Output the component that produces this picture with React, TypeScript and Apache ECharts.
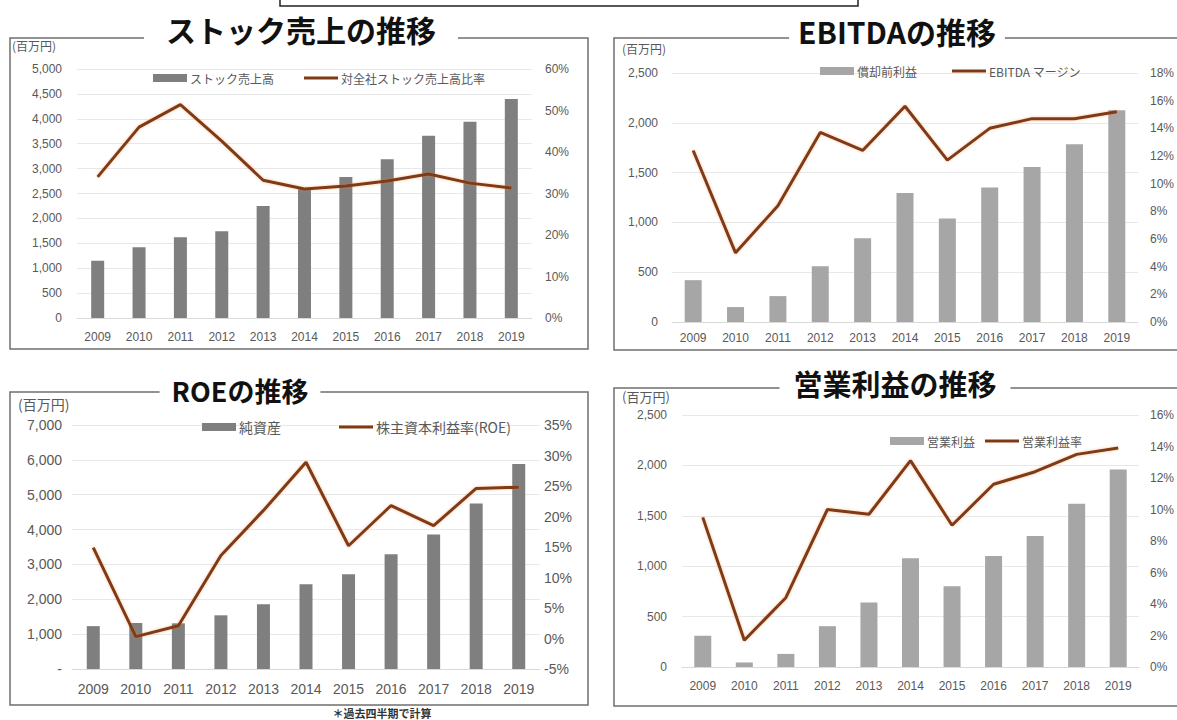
import React, { useEffect, useRef } from "react";
import * as echarts from "echarts";

const years = ["2009", "2010", "2011", "2012", "2013", "2014", "2015", "2016", "2017", "2018", "2019"];

// Panel 1: stock sales
const stockSales = [1150, 1420, 1620, 1740, 2250, 2610, 2830, 3190, 3660, 3940, 4400];
const stockRatio = [34.0, 46.0, 51.4, 42.6, 33.2, 31.1, 31.8, 33.0, 34.7, 32.5, 31.3];
// Panel 2: EBITDA
const ebitda = [420, 150, 260, 560, 840, 1295, 1040, 1350, 1555, 1785, 2125];
const ebitdaMargin = [12.4, 5.0, 8.4, 13.7, 12.4, 15.6, 11.7, 14.0, 14.7, 14.7, 15.2];
// Panel 3: ROE
const netAssets = [1230, 1320, 1310, 1540, 1860, 2430, 2720, 3290, 3860, 4750, 5880];
const roe = [14.9, 0.3, 2.1, 13.6, 21.0, 28.9, 15.2, 21.8, 18.5, 24.6, 24.8];
// Panel 4: operating profit
const opProfit = [310, 45, 130, 405, 640, 1080, 800, 1100, 1300, 1620, 1960];
const opMargin = [9.5, 1.7, 4.4, 10.0, 9.7, 13.1, 9.0, 11.6, 12.4, 13.5, 13.9];

const FONT = '"Liberation Sans", "Noto Sans CJK JP", sans-serif';
const JFONT = '"Noto Sans CJK JP", sans-serif';
const LABEL = "#595959";
const LINE = "#7f3a14";
const LINE_ICON = "path://M0,0 L34,0 L34,3 L0,3 Z";

type P = {
  grid: { left: number; top: number; width: number; height: number };
  bars: number[];
  line: number[];
  barName: string;
  lineName: string;
  barColor: string;
  barWidth: number;
  lMin: number; lMax: number; lInt: number;
  rMin: number; rMax: number; rInt: number;
  fs: number;
  lMargin: number; rMargin: number; xMargin: number;
  legend: { left: number; top: number; gap: number; fs: number };
  dashZero?: boolean;
};

const panels: P[] = [
  {
    grid: { left: 77, top: 69, width: 455, height: 249 },
    bars: stockSales, line: stockRatio,
    barName: "ストック売上高", lineName: "対全社ストック売上高比率",
    barColor: "#7f7f7f", barWidth: 13,
    lMin: 0, lMax: 5000, lInt: 500, rMin: 0, rMax: 60, rInt: 10,
    fs: 12, lMargin: 15, rMargin: 13, xMargin: 13,
    legend: { left: 148, top: 67, gap: 30, fs: 12 },
  },
  {
    grid: { left: 672, top: 73, width: 468, height: 249 },
    bars: ebitda, line: ebitdaMargin,
    barName: "償却前利益", lineName: "EBITDA マージン",
    barColor: "#a6a6a6", barWidth: 17,
    lMin: 0, lMax: 2500, lInt: 500, rMin: 0, rMax: 18, rInt: 2,
    fs: 12, lMargin: 14, rMargin: 12, xMargin: 10,
    legend: { left: 815, top: 60, gap: 35, fs: 12 },
  },
  {
    grid: { left: 72, top: 425, width: 468, height: 244 },
    bars: netAssets, line: roe,
    barName: "純資産", lineName: "株主資本利益率(ROE)",
    barColor: "#7f7f7f", barWidth: 13,
    lMin: 0, lMax: 7000, lInt: 1000, rMin: -5, rMax: 35, rInt: 5,
    fs: 14, lMargin: 10, rMargin: 4, xMargin: 13,
    legend: { left: 197, top: 415, gap: 58, fs: 14 },
    dashZero: true,
  },
  {
    grid: { left: 682, top: 415, width: 457, height: 252 },
    bars: opProfit, line: opMargin,
    barName: "営業利益", lineName: "営業利益率",
    barColor: "#a6a6a6", barWidth: 17,
    lMin: 0, lMax: 2500, lInt: 500, rMin: 0, rMax: 16, rInt: 2,
    fs: 12, lMargin: 15, rMargin: 11, xMargin: 13,
    legend: { left: 885, top: 430, gap: 10, fs: 12 },
  },
];

const titles = [
  { text: "ストック売上の推移", x: 301, y: 29, fs: 30, pad: 22 },
  { text: "EBITDAの推移", x: 897, y: 31, fs: 30, pad: 9 },
  { text: "ROEの推移", x: 240, y: 390, fs: 27, pad: 12 },
  { text: "営業利益の推移", x: 895, y: 383, fs: 29, pad: 14 },
];

const boxes = [
  { x: 10, y: 38, w: 578, h: 311 },
  { x: 614, y: 38, w: 620, h: 312 },
  { x: 10, y: 392, w: 578, h: 313 },
  { x: 614, y: 388, w: 620, h: 318 },
];

const units = [
  { x: 12, y: 45, fs: 12 },
  { x: 622, y: 48, fs: 12 },
  { x: 18, y: 404, fs: 14 },
  { x: 622, y: 396, fs: 13 },
];

export default function App() {
  const ref = useRef<HTMLDivElement>(null);
  useEffect(() => {
    if (!ref.current) return;
    const chart = echarts.init(ref.current, undefined, { renderer: "svg" });
    const grid: any[] = [];
    const xAxis: any[] = [];
    const yAxis: any[] = [];
    const series: any[] = [];
    const legend: any[] = [];
    panels.forEach((p, i) => {
      grid.push({ ...p.grid });
      xAxis.push({
        type: "category",
        gridIndex: i,
        data: years,
        axisTick: { show: false },
        axisLine: { lineStyle: { color: "#d9d9d9" } },
        axisLabel: { color: LABEL, fontSize: p.fs, fontFamily: FONT, margin: p.xMargin, interval: 0 },
      });
      yAxis.push({
        type: "value",
        gridIndex: i,
        min: p.lMin, max: p.lMax, interval: p.lInt,
        axisLine: { show: false },
        axisTick: { show: false },
        splitLine: { lineStyle: { color: "#e8e8e8" } },
        axisLabel: {
          color: LABEL, fontSize: p.fs, fontFamily: FONT, margin: p.lMargin,
          formatter: (v: number) => (p.dashZero && v === 0 ? "-" : v.toLocaleString("en-US")),
        },
      });
      yAxis.push({
        type: "value",
        gridIndex: i,
        position: "right",
        min: p.rMin, max: p.rMax, interval: p.rInt,
        axisLine: { show: false },
        axisTick: { show: false },
        splitLine: { show: false },
        axisLabel: {
          color: LABEL, fontSize: p.fs, fontFamily: FONT, margin: p.rMargin, align: "left",
          formatter: (v: number) => v + "%",
        },
      });
      series.push({
        type: "bar",
        name: p.barName,
        xAxisIndex: i,
        yAxisIndex: 2 * i,
        data: p.bars,
        barWidth: p.barWidth,
        itemStyle: { color: p.barColor },
        color: p.barColor,
      });
      series.push({
        type: "line",
        name: p.lineName,
        xAxisIndex: i,
        yAxisIndex: 2 * i + 1,
        data: p.line,
        symbol: "none",
        color: LINE,
        lineStyle: { color: LINE, width: 3, shadowColor: "rgba(237,125,49,0.45)", shadowBlur: 3 },
        z: 5,
      });
      legend.push({
        left: p.legend.left,
        top: p.legend.top,
        itemGap: p.legend.gap,
        itemWidth: 34,
        itemHeight: 8,
        symbolKeepAspect: true,
        data: [
          { name: p.barName, icon: "rect" },
          { name: p.lineName, icon: LINE_ICON },
        ],
        textStyle: { color: LABEL, fontSize: p.legend.fs, fontFamily: JFONT, padding: [0, 0, 0, -2] },
        selectedMode: false,
      });
    });

    const graphic: any[] = [
      {
        type: "rect",
        shape: { x: 280, y: -20, width: 578, height: 26 },
        style: { fill: "#fff", stroke: "#222", lineWidth: 1.5 },
        z: 10,
      },
    ];
    boxes.forEach((b) =>
      graphic.push({
        type: "rect",
        shape: { x: b.x, y: b.y, width: b.w, height: b.h },
        style: { fill: "none", stroke: "#6f6f6f", lineWidth: 1.5 },
        z: 10,
      })
    );
    titles.forEach((t) =>
      graphic.push({
        type: "text",
        x: t.x,
        y: t.y,
        z: 11,
        style: {
          text: t.text,
          align: "center",
          verticalAlign: "middle",
          fontSize: t.fs,
          fontWeight: "bold",
          fontFamily: JFONT,
          fill: "#111",
          backgroundColor: "#fff",
          padding: [2, t.pad, 2, t.pad],
        },
      })
    );
    units.forEach((u) =>
      graphic.push({
        type: "text",
        x: u.x,
        y: u.y,
        z: 11,
        style: {
          text: "(百万円)",
          verticalAlign: "middle",
          fontSize: u.fs,
          fontFamily: JFONT,
          fill: LABEL,
        },
      })
    );
    graphic.push({
      type: "text",
      x: 382,
      y: 713,
      z: 11,
      style: {
        text: "＊過去四半期で計算",
        align: "center",
        verticalAlign: "middle",
        fontSize: 11,
        fontWeight: "bold",
        fontFamily: JFONT,
        fill: "#333",
      },
    });

    chart.setOption({
      animation: false,
      backgroundColor: "#fff",
      grid,
      xAxis,
      yAxis,
      series,
      legend,
      graphic,
    });
    return () => chart.dispose();
  }, []);
  return (
    <div
      ref={ref}
      style={{ position: "fixed", left: 0, top: 0, width: 1177, height: 720, background: "#fff" }}
    />
  );
}
